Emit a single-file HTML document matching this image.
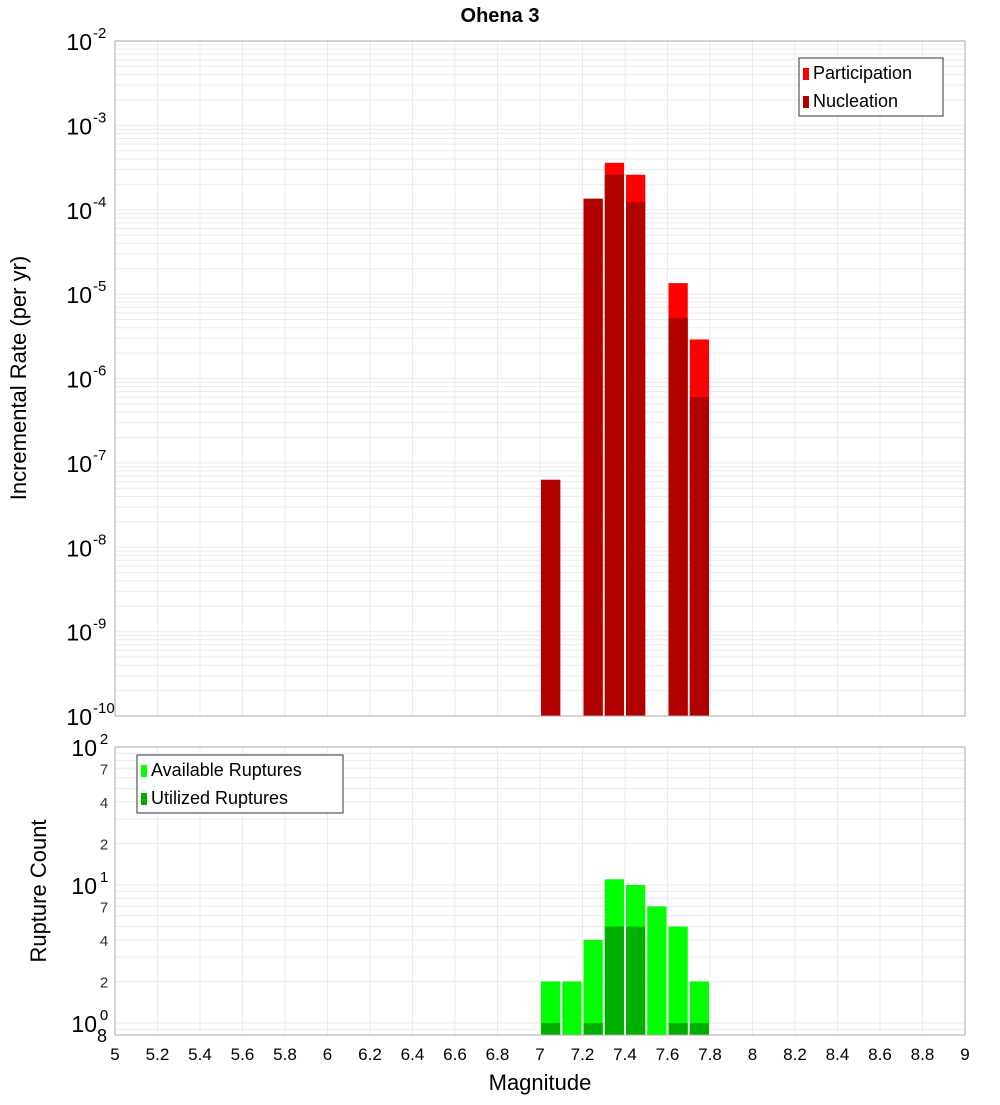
<!DOCTYPE html>
<html><head><meta charset="utf-8"><style>
body{margin:0;background:#fff}
svg{font-family:"Liberation Sans","DejaVu Sans",sans-serif}
</style></head><body>
<svg id="c" width="1000" height="1100" xmlns="http://www.w3.org/2000/svg"></svg>
<script>
const mags=[7.05,7.25,7.35,7.45,7.65,7.75];
const participation=[6.3e-8,1.35e-4,3.6e-4,2.6e-4,1.35e-5,2.9e-6];
const nucleation=[6.3e-8,1.35e-4,2.6e-4,1.23e-4,5.2e-6,6.0e-7];
const countMags=[7.05,7.15,7.25,7.35,7.45,7.55,7.65,7.75];
const available=[2,2,4,11,10,7,5,2];
const utilized=[1,0,1,5,5,0,1,1];
const xTicks=[5,5.2,5.4,5.6,5.8,6,6.2,6.4,6.6,6.8,7,7.2,7.4,7.6,7.8,8,8.2,8.4,8.6,8.8,9];
const topExps=[-2,-3,-4,-5,-6,-7,-8,-9,-10];
const botMinor=[7,4,2];

const svg=document.getElementById('c');const NS='http://www.w3.org/2000/svg';
function el(t,a,p){const e=document.createElementNS(NS,t);for(const k in a)e.setAttribute(k,a[k]);(p||svg).appendChild(e);return e;}
const X0=115,X1=965;
const xs=m=>X0+(m-5)/4*(X1-X0);
const T0=41,T1=716,TD=(T1-T0)/8;
const yTop=v=>T0+(-2-Math.log10(v))*TD;
const B0=747,B1=1035,BD=138;
const yBot=v=>B0+(2-Math.log10(v))*BD;

// title
let t=el('text',{x:500,y:22,'text-anchor':'middle','font-size':20,'font-weight':'bold'});
t.textContent='Ohena 3';

// top grid
let g=el('g',{stroke:'#ebebeb','stroke-width':1});

for(const m of xTicks)el('line',{x1:xs(m),x2:xs(m),y1:T0,y2:T1},g);
for(let e=-10;e<-2;e++)for(let k=1;k<10;k++){const y=yTop(k*Math.pow(10,e));el('line',{x1:X0,x2:X1,y1:y,y2:y},g);}
let g2=el('g',{stroke:'#ebebeb','stroke-width':1});

for(const m of xTicks)el('line',{x1:xs(m),x2:xs(m),y1:B0,y2:B1},g2);
for(const d of [1,10])for(let k=1;k<10;k++){const y=yBot(k*d);if(y<=B1)el('line',{x1:X0,x2:X1,y1:y,y2:y},g2);}
{const y=yBot(0.9);el('line',{x1:X0,x2:X1,y1:y,y2:y},g2);}

// top bars
mags.forEach((m,i)=>{
 let r=el('rect',{x:xs(m-0.05)+1,width:xs(m+0.05)-xs(m-0.05)-2,y:yTop(participation[i]),height:T1-yTop(participation[i]),fill:'#ff0000'});
 
 let n=el('rect',{x:xs(m-0.05)+1,width:xs(m+0.05)-xs(m-0.05)-2,y:yTop(nucleation[i]),height:T1-yTop(nucleation[i]),fill:'#b00000'});
 
});
countMags.forEach((m,i)=>{
 if(available[i]>0){let r=el('rect',{x:xs(m-0.05)+1,width:xs(m+0.05)-xs(m-0.05)-2,y:yBot(available[i]),height:B1-yBot(available[i]),fill:'#00ff00'});
 }
 if(utilized[i]>0){let n=el('rect',{x:xs(m-0.05)+1,width:xs(m+0.05)-xs(m-0.05)-2,y:yBot(utilized[i]),height:B1-yBot(utilized[i]),fill:'#00b000'});
 }
});

// frames
let f1=el('rect',{x:X0,y:T0,width:X1-X0,height:T1-T0,fill:'none',stroke:'#aaa'});

let f2=el('rect',{x:X0,y:B0,width:X1-X0,height:B1-B0,fill:'none',stroke:'#aaa'});


// top y labels
topExps.forEach(e=>{
 const y=yTop(Math.pow(10,e));
 let tx=el('text',{x:92,y:y+9,'text-anchor':'end','font-size':23});
 tx.textContent='10';
 let s=el('text',{x:93,y:y-3,'font-size':15});
 s.textContent=String(e);
});
// bottom y labels
[[2,100],[1,10],[0,1]].forEach(([e,v])=>{
 const y=yBot(v);
 let tx=el('text',{x:97,y:y+9,'text-anchor':'end','font-size':23});
 tx.textContent='10';
 let s=el('text',{x:104,y:y-3,'font-size':15,'text-anchor':'middle'});
 s.textContent=String(e);
});
[10,1].forEach(d=>botMinor.forEach(k=>{
 const y=yBot(k*d);
 let tx=el('text',{x:104,y:y+6,'text-anchor':'middle','font-size':15,fill:'#333'});
 tx.textContent=String(k);
}));
{let tx=el('text',{x:102,y:1042,'text-anchor':'middle','font-size':18});
 tx.textContent='8';}

// x ticks
xTicks.forEach(m=>{
 let tx=el('text',{x:xs(m),y:1060,'text-anchor':'middle','font-size':17});
 tx.textContent=String(m);
});
let xl=el('text',{x:540,y:1090,'text-anchor':'middle','font-size':22});
xl.textContent='Magnitude';
let yl=el('text',{x:0,y:0,'text-anchor':'middle','font-size':22,transform:'translate(26,378) rotate(-90)'});
yl.textContent='Incremental Rate (per yr)';
let yl2=el('text',{x:0,y:0,'text-anchor':'middle','font-size':22,transform:'translate(46,891) rotate(-90)'});
yl2.textContent='Rupture Count';

// legends
function legend(x,y,w,items,name){
 let lg=el('g',{});
 el('rect',{x:x,y:y,width:w,height:58,fill:'#fff',stroke:'#333'},lg);
 items.forEach(([c,l],i)=>{
  el('rect',{x:x+4,y:y+10+i*28,width:6,height:12,fill:c},lg);
  let tx=el('text',{x:x+14,y:y+21+i*28,'font-size':18},lg);
  tx.textContent=l;
 });
}
legend(799,58,144,[['#ff0000','Participation'],['#b00000','Nucleation']],'top-legend');
legend(137,755,206,[['#00ff00','Available Ruptures'],['#00b000','Utilized Ruptures']],'bottom-legend');
</script>
</body></html>
